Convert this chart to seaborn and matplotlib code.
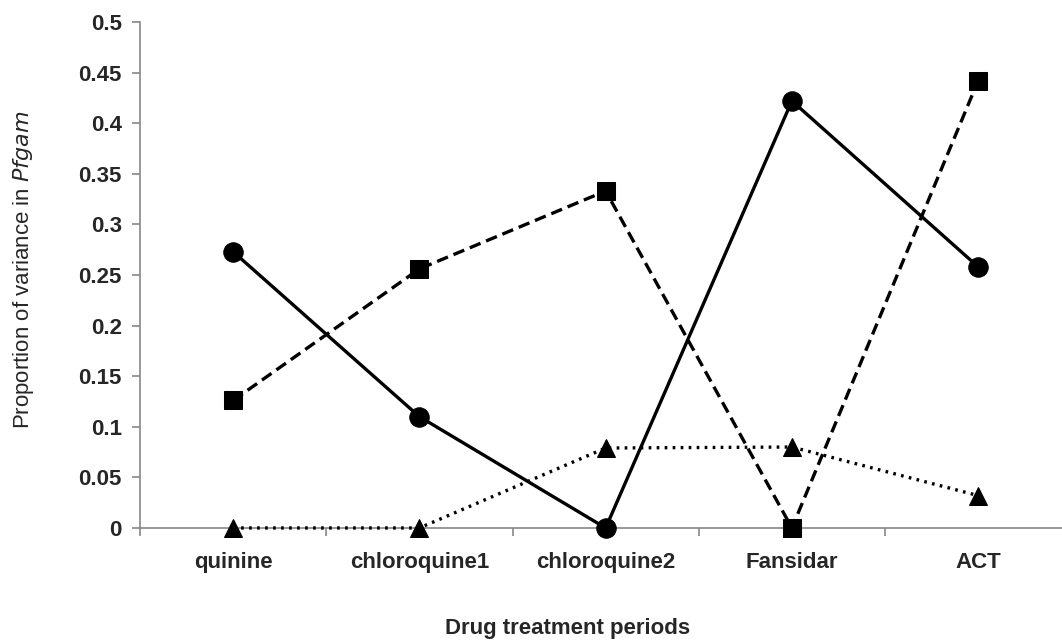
import matplotlib.pyplot as plt
import pandas as pd
import seaborn as sns

periods = ["quinine", "chloroquine1", "chloroquine2", "Fansidar", "ACT"]
circle_values = [0.273, 0.110, 0.0, 0.422, 0.258]
square_values = [0.126, 0.256, 0.333, 0.0, 0.442]
triangle_values = [0.0, 0.0, 0.079, 0.080, 0.032]
y_ticks = [0, 0.05, 0.1, 0.15, 0.2, 0.25, 0.3, 0.35, 0.4, 0.45, 0.5]
y_tick_labels = ["0", "0.05", "0.1", "0.15", "0.2", "0.25", "0.3", "0.35", "0.4", "0.45", "0.5"]


def main():
    sns.set_style("white")
    plt.rcParams["font.family"] = ["Liberation Sans", "DejaVu Sans"]

    df = pd.DataFrame({
        "period": periods * 3,
        "x": list(range(len(periods))) * 3,
        "value": circle_values + square_values + triangle_values,
        "series": ["circle"] * 5 + ["square"] * 5 + ["triangle"] * 5,
    })

    fig = plt.figure(figsize=(10.62, 6.43), dpi=100)
    ax = fig.add_axes([0.1318, 0.1789, 0.8682, 0.7869])

    styles = {
        "circle": dict(marker="o", markersize=14, linestyle="-"),
        "square": dict(marker="s", markersize=13, linestyle=(0, (3.5, 1.8))),
        "triangle": dict(marker="^", markersize=13, linestyle=(0, (0.8, 1.6))),
    }
    for name, st in styles.items():
        sub = df[df["series"] == name]
        sns.lineplot(data=sub, x="x", y="value", ax=ax, color="black",
                     linewidth=2.4, marker=st["marker"], markersize=st["markersize"],
                     markeredgecolor="black", markerfacecolor="black",
                     linestyle=st["linestyle"], legend=False, clip_on=False, zorder=3)

    ax.set_xlim(-0.5, 4.45)
    ax.set_ylim(0, 0.5)
    ax.set_yticks(y_ticks)
    ax.set_yticklabels(y_tick_labels, fontsize=16, fontweight="bold")
    ax.set_xticks(range(len(periods)))
    ax.set_xticklabels(periods, fontsize=16, fontweight="bold")
    ax.tick_params(axis="x", which="major", bottom=True, length=0, pad=17)
    ax.set_xticks([i + 0.5 for i in range(-1, 4)], minor=True)
    ax.tick_params(axis="x", which="minor", bottom=True, length=6, color="#888888",
                   width=1.2, direction="out")
    ax.tick_params(axis="y", left=True, length=6, color="#888888", width=1.2,
                   direction="out", pad=7)

    for side in ["top", "right"]:
        ax.spines[side].set_visible(False)
    for side in ["left", "bottom"]:
        ax.spines[side].set_color("#888888")
        ax.spines[side].set_linewidth(1.2)

    ax.set_xlabel("Drug treatment periods", fontsize=16, fontweight="bold")
    ax.xaxis.set_label_coords(0.464, -0.178)
    ax.set_ylabel("Proportion of variance in $\\it{Pfgam}$", fontsize=16)
    ax.yaxis.set_label_coords(-0.113, 0.51)

    fig.savefig("out.png", dpi=100)
    plt.close(fig)


if __name__ == "__main__":
    main()
